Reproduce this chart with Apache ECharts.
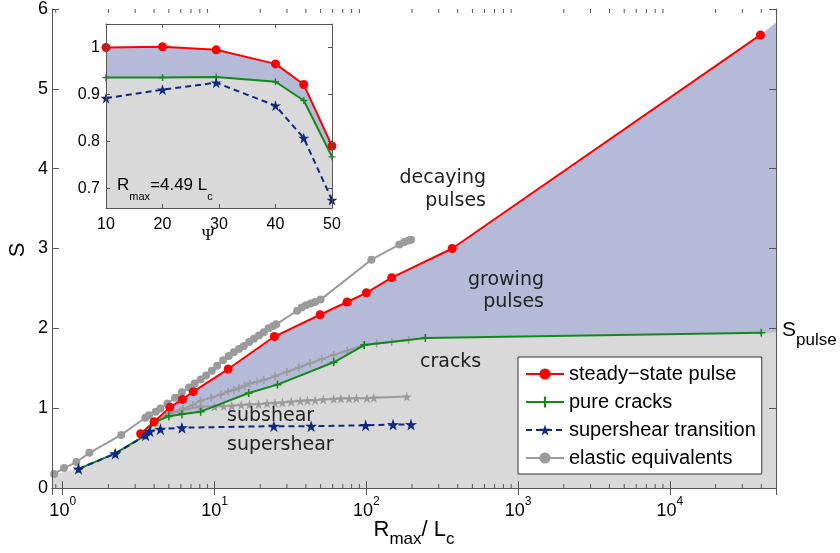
<!DOCTYPE html>
<html><head><meta charset="utf-8">
<script src="https://cdn.jsdelivr.net/npm/echarts@6/dist/echarts.min.js"></script>
<style>html,body{margin:0;padding:0;background:#fff}#c{width:840px;height:553px}</style>
</head><body><div id="c"></div>
<script>
// ---------- main panel data (x = Rmax/Lc, y = S) ----------
const steadyPulse = [[3.26,0.68],[4.0,0.83],[5.08,1.01],[6.15,1.11],[7.25,1.207],[12.3,1.49],[24.8,1.897],[49.6,2.17],[74.7,2.33],[100,2.445],[147,2.635],[368,3.0],[39500,5.675]];
const pureCracks = [[1.27,0.24],[2.2,0.43],[3.5,0.66],[4.0,0.82],[5.0,0.90],[6.1,0.925],[8.1,0.956],[16.8,1.19],[26,1.295],[61,1.575],[97,1.79],[245,1.88],[40000,1.945]];
const supershear = [[1.27,0.24],[2.22,0.43],[3.52,0.66],[3.75,0.71],[4.4,0.737],[6.1,0.755],[24.6,0.775],[43.3,0.775],[99,0.785],[150,0.795],[197,0.795]];
const elasticPulse = [[0.877,0.175],[1.02,0.25],[1.23,0.325],[1.5,0.44],[2.43,0.665],[3.5,0.88],[3.7,0.91],[4.1,0.955],[4.4,0.995],[4.9,1.06],[5.5,1.13],[6.1,1.2],[6.8,1.26],[7.4,1.31],[8.1,1.36],[8.8,1.41],[9.6,1.47],[10.4,1.53],[11.4,1.6],[12.4,1.655],[13.4,1.7],[14.5,1.74],[15.6,1.78],[16.9,1.83],[18.2,1.87],[19.6,1.91],[21.1,1.95],[22.7,2.0],[24.4,2.03],[25.5,2.05],[35,2.22],[37.5,2.26],[40,2.29],[43,2.31],[46,2.33],[50,2.36],[108,2.86],[165,3.05],[178,3.08],[190,3.1],[197,3.11]];
const elasticCracks = [[4.0,0.83],[5.0,0.93],[6.2,0.99],[7.2,1.04],[8.1,1.094],[9.5,1.13],[11,1.17],[12.3,1.21],[13.4,1.228],[14.5,1.25],[15.8,1.28],[17.2,1.31],[19.1,1.33],[21.1,1.353],[25,1.40],[30,1.457],[36,1.51],[42.7,1.562],[51,1.615],[61,1.667],[75,1.72],[95.9,1.79],[117,1.81],[147,1.83],[190,1.855]];
const elasticShear = [[4.0,0.83],[5.0,0.93],[6.0,0.97],[8.1,1.02],[10,1.02],[11.5,1.025],[13,1.03],[15,1.04],[17,1.045],[19.5,1.05],[22.2,1.06],[25,1.065],[28,1.07],[32,1.08],[36.7,1.09],[41,1.095],[46,1.1],[52,1.11],[61,1.115],[68,1.12],[77,1.12],[86,1.125],[101,1.125],[112,1.13],[185,1.145]];
// region boundaries read at the plot edges
const pulseRegionEnd = [50000,5.83];
const crackRegionStart = [0.85,0.165];
const crackRegionEnd = [50000,1.95];
// minor log ticks
const minorTicks = [0.9,2,3,4,5,6,7,8,9,20,30,40,50,60,70,80,90,200,300,400,500,600,700,800,900,2000,3000,4000,5000,6000,7000,8000,9000,20000,30000,40000];

// ---------- inset data (x = Psi) ----------
const psi = [10,20,29.5,40,45,50];
const insetPulse = [1.0,1.0015,0.995,0.965,0.921,0.790];
const insetCracks = [0.936,0.936,0.937,0.927,0.887,0.767];
const insetShear = [0.892,0.910,0.925,0.876,0.807,0.675];

const legendNames = ['steady\u2212state pulse','pure cracks','supershear transition','elastic equivalents'];

const STAR = 'path://M50,0L61.17,34.63L97.55,34.55L68.07,55.87L79.39,90.45L50,69L20.61,90.45L31.93,55.87L2.45,34.55L38.83,34.63Z';
const PLUS = 'path://M3.2,0H4.8V3.2H8V4.8H4.8V8H3.2V4.8H0V3.2H3.2Z';
const RED='#ff0000', GREEN='#13891a', NAVY='#10287f', GRAY='#9b9b9b', BLUEF='#b5bad9', GRAYF='#d9d9d9', AX='#555';
const FONT='Liberation Sans, Arial, sans-serif';
const DV='DejaVu Sans, sans-serif';
const zip = ys => psi.map((p,i)=>[p,ys[i]]);

const axBase = {axisLine:{show:true,lineStyle:{color:AX,width:1}},axisTick:{show:true,inside:true,length:7,lineStyle:{color:AX}},splitLine:{show:false}};
const smallTick = {axisTick:{show:true,inside:true,length:4,lineStyle:{color:AX}}};

const chart = echarts.init(document.getElementById('c'));
chart.setOption({
  animation:false,
  backgroundColor:'#fff',
  grid:[
    {left:52,top:9,width:724,height:479,show:false,containLabel:false,outerBoundsMode:'none'},
    {left:106,top:24,width:226,height:184,show:true,backgroundColor:'#fff',borderWidth:0,z:10,containLabel:false,outerBoundsMode:'none'}
  ],
  xAxis:[
    Object.assign({type:'log',logBase:10,gridIndex:0,min:0.85,max:50000,position:'bottom',z:5,
      axisLabel:{showMinLabel:false,showMaxLabel:false,margin:8,
        formatter:v=>'{a|10}{b|'+Math.round(Math.log10(v))+'}',
        rich:{a:{fontSize:18,lineHeight:30,fontFamily:FONT,color:'#000'},b:{fontSize:12,lineHeight:10,verticalAlign:'top',fontFamily:FONT,color:'#000'}}}
    },axBase),
    Object.assign({type:'log',logBase:10,gridIndex:0,min:0.85,max:50000,position:'top',z:5,axisLabel:{show:false}},axBase),
    Object.assign({type:'value',gridIndex:1,min:10,max:50,interval:10,position:'bottom',z:14,
      axisLabel:{fontSize:16,fontFamily:FONT,color:'#000',margin:9}},axBase,smallTick),
    Object.assign({type:'value',gridIndex:1,min:10,max:50,interval:10,position:'top',z:14,axisLabel:{show:false}},axBase,smallTick)
  ],
  yAxis:[
    Object.assign({type:'value',gridIndex:0,min:0,max:6,interval:1,position:'left',z:5,
      axisLabel:{fontSize:18,fontFamily:FONT,color:'#000',margin:4}},axBase),
    Object.assign({type:'value',gridIndex:0,min:0,max:6,interval:1,position:'right',z:5,axisLabel:{show:false}},axBase),
    Object.assign({type:'value',gridIndex:1,min:0.658,max:1.05,splitNumber:4,position:'left',z:14,
      axisLabel:{fontSize:16,fontFamily:FONT,color:'#000',margin:6,showMinLabel:false,showMaxLabel:false}},axBase,smallTick),
    Object.assign({type:'value',gridIndex:1,min:0.658,max:1.05,splitNumber:4,position:'right',z:14,axisLabel:{show:false}},axBase,smallTick)
  ],
  legend:{data:legendNames,orient:'vertical',left:518,top:357,padding:[7,6,6,7],itemGap:8,itemWidth:38,itemHeight:14,
    backgroundColor:'#fff',borderColor:'#333',borderWidth:1,borderRadius:0,selectedMode:false,z:8,
    textStyle:{fontSize:20,fontFamily:FONT,color:'#000'}},
  graphic:[
    {type:'text',x:17.5,y:250,rotation:Math.PI/2,z:20,style:{text:'S',font:'22px '+FONT,fill:'#000',align:'center',verticalAlign:'middle'}},
    {type:'text',x:414,y:512,z:20,style:{text:'{n|R}{s|max}{n|/ L}{s|c}',align:'center',verticalAlign:'top',
      rich:{n:{fontSize:22,lineHeight:36,fontFamily:FONT,fill:'#000'},s:{fontSize:17,lineHeight:12,verticalAlign:'bottom',fontFamily:FONT,fill:'#000'}}}},
    {type:'text',x:486,y:189.5,z:20,style:{text:'decaying\npulses',font:'19px '+DV,fill:'#222',align:'right',verticalAlign:'middle',lineHeight:23}},
    {type:'text',x:544,y:291,z:20,style:{text:'growing\npulses',font:'19px '+DV,fill:'#222',align:'right',verticalAlign:'middle',lineHeight:22}},
    {type:'text',x:420,y:362,z:20,style:{text:'cracks',font:'19px '+DV,fill:'#222',align:'left',verticalAlign:'middle'}},
    {type:'text',x:227,y:416,z:20,style:{text:'subshear',font:'19px '+DV,fill:'#222',align:'left',verticalAlign:'middle'}},
    {type:'text',x:227,y:445,z:20,style:{text:'supershear',font:'19px '+DV,fill:'#222',align:'left',verticalAlign:'middle'}},
    {type:'text',x:782,y:311,z:20,style:{text:'{n|S}{s|pulse}',align:'left',verticalAlign:'top',
      rich:{n:{fontSize:21,lineHeight:38,fontFamily:FONT,fill:'#000'},s:{fontSize:17,lineHeight:14,verticalAlign:'bottom',fontFamily:FONT,fill:'#000'}}}},
    {type:'text',x:117,y:168,z:20,style:{text:'{n|R}{s|max}{n|=4.49 L}{s|c}',align:'left',verticalAlign:'top',
      rich:{n:{fontSize:17,lineHeight:34,fontFamily:FONT,fill:'#000'},s:{fontSize:11,lineHeight:12,verticalAlign:'bottom',fontFamily:FONT,fill:'#000'}}}},
    {type:'text',x:208,y:236,z:20,style:{text:'\u03A8',font:'17px Liberation Serif, serif',fill:'#000',align:'center',verticalAlign:'middle'}}
  ],
  series:[
    {name:'pulseRegion',type:'line',xAxisIndex:0,yAxisIndex:0,data:steadyPulse.concat([pulseRegionEnd]),symbol:'none',silent:true,
      lineStyle:{width:0,opacity:0},areaStyle:{color:BLUEF,opacity:1},z:1},
    {name:'crackRegion',type:'line',xAxisIndex:0,yAxisIndex:0,data:[crackRegionStart].concat(pureCracks,[crackRegionEnd]),symbol:'none',silent:true,
      lineStyle:{width:0,opacity:0},areaStyle:{color:GRAYF,opacity:1},z:1},
    {name:'elasticCracks',type:'line',xAxisIndex:0,yAxisIndex:0,data:elasticCracks,symbol:PLUS,symbolSize:8,
      lineStyle:{color:GRAY,width:2},itemStyle:{color:GRAY},z:2},
    {name:'elasticShear',type:'line',xAxisIndex:0,yAxisIndex:0,data:elasticShear,symbol:STAR,symbolSize:10,
      lineStyle:{color:GRAY,width:2},itemStyle:{color:GRAY},z:2},
    {name:legendNames[3],type:'line',xAxisIndex:0,yAxisIndex:0,data:elasticPulse,symbol:'circle',symbolSize:8,
      lineStyle:{color:GRAY,width:2},itemStyle:{color:GRAY},z:2},
    {name:legendNames[1],type:'line',xAxisIndex:0,yAxisIndex:0,data:pureCracks,symbol:PLUS,symbolSize:8,
      lineStyle:{color:GREEN,width:2},itemStyle:{color:GREEN},z:3},
    {name:legendNames[0],type:'line',xAxisIndex:0,yAxisIndex:0,data:steadyPulse,symbol:'circle',symbolSize:9,
      lineStyle:{color:RED,width:2},itemStyle:{color:RED},z:3},
    {name:legendNames[2],type:'line',xAxisIndex:0,yAxisIndex:0,data:supershear,symbol:STAR,symbolSize:12,
      lineStyle:{color:NAVY,width:2,type:[6,4]},itemStyle:{color:NAVY},z:4},
    {name:'minorTicks',type:'custom',xAxisIndex:0,yAxisIndex:0,data:minorTicks.map(v=>[v,0]),silent:true,clip:false,z:6,
      renderItem:function(params,api){
        const p = api.coord([api.value(0),0]);
        const cs = params.coordSys;
        const yb = cs.y+cs.height, yt = cs.y;
        return {type:'group',children:[
          {type:'line',shape:{x1:p[0],y1:yb,x2:p[0],y2:yb-4},style:{stroke:AX,lineWidth:1}},
          {type:'line',shape:{x1:p[0],y1:yt,x2:p[0],y2:yt+4},style:{stroke:AX,lineWidth:1}}
        ]};
      }},
    // inset
    {name:'insetPulseRegion',type:'line',xAxisIndex:2,yAxisIndex:2,data:zip(insetPulse),symbol:'none',silent:true,
      lineStyle:{width:0,opacity:0},areaStyle:{color:BLUEF,opacity:1},z:11},
    {name:'insetCrackRegion',type:'line',xAxisIndex:2,yAxisIndex:2,data:zip(insetCracks),symbol:'none',silent:true,
      lineStyle:{width:0,opacity:0},areaStyle:{color:GRAYF,opacity:1},z:11},
    {name:'insetCracks',type:'line',xAxisIndex:2,yAxisIndex:2,data:zip(insetCracks),symbol:PLUS,symbolSize:7,
      lineStyle:{color:GREEN,width:2},itemStyle:{color:GREEN},z:12},
    {name:'insetPulse',type:'line',xAxisIndex:2,yAxisIndex:2,data:zip(insetPulse),symbol:'circle',symbolSize:9,
      lineStyle:{color:RED,width:2},itemStyle:{color:RED},z:12},
    {name:'insetShear',type:'line',xAxisIndex:2,yAxisIndex:2,data:zip(insetShear),symbol:STAR,symbolSize:11,
      lineStyle:{color:NAVY,width:2,type:[6,4]},itemStyle:{color:NAVY},z:13}
  ]
});
</script></body></html>
